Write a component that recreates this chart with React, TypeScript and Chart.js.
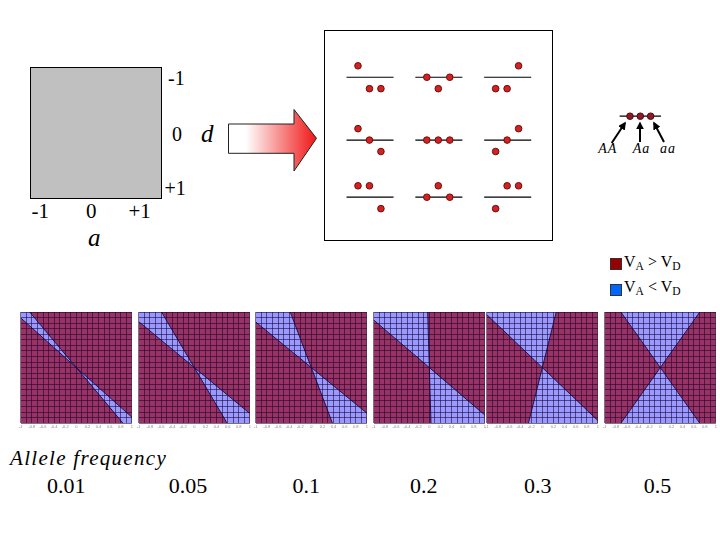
import React, { useEffect, useRef } from 'react';
import { Chart, registerables } from 'chart.js';

Chart.register(...registerables);

// ---------- data ----------
const frequencyLabels = ['0.01', '0.05', '0.1', '0.2', '0.3', '0.5'];
// a-value (−1 … +1 across each panel) where the two edges of the V_A < V_D wedge meet the top edge (d = −1)
const wedgeTopLeft = [-1.12, -1.21, -1.22, -1.17, -1.05, -0.71];
const wedgeTopRight = [-0.84, -0.59, -0.38, -0.03, 0.25, 0.71];

const squareBottomTicks = ['-1', '0', '+1'];
const squareSideTicks = ['-1', '0', '+1'];
const genotypeNames = ['AA', 'Aa', 'aa'];
// genotype values [AA, Aa, aa] for each (d row, a column) of the example grid
const genotypeValues: number[][][] = [
  [[1, -1, -1], [0, -1, 0], [-1, -1, 1]],
  [[1, 0, -1], [0, 0, 0], [-1, 0, 1]],
  [[1, 1, -1], [0, 1, 0], [-1, 1, 1]],
];
const legendGenotypeValues = [0, 0, 0];
const legendLabels = ['>', '<'];

// ---------- layout / style ----------
const RED = '#993366';
const BLUE = '#9999ff';
const GRID = 'rgba(20,0,40,0.55)';
const EDGE = 'rgba(25,15,80,0.95)';
const ROWS = 111;
const panelLefts = [20, 138, 255, 373, 486, 604];
const panelTop = 312;
const panelW = 112;
const panelH = 111;
const freqCenters = [66.3, 188, 306.3, 423.7, 537.8, 657.5];
const GROUP_SP = 6; // group spacing in dot units
const rowOffsets = [0, 5.5, 10.5];

function Heatmap({ idx }: { idx: number }) {
  const ref = useRef<HTMLCanvasElement>(null);
  useEffect(() => {
    const L = wedgeTopLeft[idx];
    const R = wedgeTopRight[idx];
    const labels: string[] = [];
    const blue: ([number, number] | null)[] = [];
    for (let i = 0; i < ROWS; i++) {
      const d = -1 + (2 * (i + 0.5)) / ROWS;
      labels.push(d.toFixed(3));
      const a1 = -L * d;
      const a2 = -R * d;
      const lo = Math.max(-1, Math.min(a1, a2));
      const hi = Math.min(1, Math.max(a1, a2));
      blue.push(hi > lo ? [lo, hi] : null);
    }
    const edge = (k: number) => {
      const m = -k;
      const dm = Math.min(1, 1 / Math.abs(m));
      return [
        { x: -m * dm, y: -dm },
        { x: m * dm, y: dm },
      ];
    };
    const chart = new Chart(ref.current!, {
      type: 'bar',
      data: {
        labels,
        datasets: [
          {
            type: 'line',
            data: [{ x: -1, y: 1 }, { x: 1, y: 1 }],
            xAxisID: 'x',
            yAxisID: 'g',
            fill: { value: -1 },
            backgroundColor: RED,
            borderWidth: 0,
            pointRadius: 0,
            order: 3,
          } as any,
          {
            type: 'bar',
            data: blue as any,
            indexAxis: 'y',
            xAxisID: 'x',
            yAxisID: 'y',
            backgroundColor: BLUE,
            barPercentage: 1.3,
            categoryPercentage: 1,
            grouped: false,
            borderWidth: 0,
            order: 2,
          } as any,
          {
            type: 'line',
            data: edge(L),
            xAxisID: 'x',
            yAxisID: 'g',
            borderColor: EDGE,
            borderWidth: 1,
            pointRadius: 0,
            fill: false,
            order: 1,
          } as any,
          {
            type: 'line',
            data: edge(R),
            xAxisID: 'x',
            yAxisID: 'g',
            borderColor: EDGE,
            borderWidth: 1,
            pointRadius: 0,
            fill: false,
            order: 1,
          } as any,
        ],
      },
      options: {
        responsive: false,
        animation: false,
        events: [],
        layout: { padding: { left: 2, right: 2, top: 0, bottom: 0 } },
        plugins: { legend: { display: false }, tooltip: { enabled: false } },
        scales: {
          x: {
            type: 'linear',
            min: -1,
            max: 1,
            offset: false,
            position: 'bottom',
            grid: { color: GRID, lineWidth: 1, drawTicks: false, z: 1, offset: false },
            border: { display: false },
            ticks: {
              stepSize: 0.1,
              autoSkip: false,
              maxRotation: 0,
              padding: 1,
              font: { size: 4 },
              color: '#888',
              callback: (v: any, i: number) => (i % 2 === 0 ? String(Math.round(Number(v) * 10) / 10) : ''),
            },
          },
          y: { type: 'category', display: false, offset: true },
          g: {
            type: 'linear',
            axis: 'y',
            position: 'left',
            min: -1,
            max: 1,
            offset: false,
            reverse: true,
            grid: { color: GRID, lineWidth: 1, drawTicks: false, z: 1, offset: false },
            border: { display: false },
            ticks: { display: false, stepSize: 0.1 },
          },
        } as any,
      },
    } as any);
    return () => chart.destroy();
  }, [idx]);
  return (
    <canvas
      ref={ref}
      width={panelW + 4}
      height={panelH + 7}
      style={{ position: 'absolute', left: panelLefts[idx] - 2, top: panelTop, display: 'block' }}
    />
  );
}

function DotChart({
  left, top, width, height, xMin, yMax, datasetsBuilder,
}: {
  left: number; top: number; width: number; height: number; xMin: number; yMax: number;
  datasetsBuilder: () => any[];
}) {
  const ref = useRef<HTMLCanvasElement>(null);
  useEffect(() => {
    const unit = 12;
    const chart = new Chart(ref.current!, {
      type: 'scatter',
      data: { datasets: datasetsBuilder() },
      options: {
        responsive: false,
        animation: false,
        events: [],
        layout: { padding: 0 },
        plugins: { legend: { display: false }, tooltip: { enabled: false } },
        scales: {
          x: { type: 'linear', display: false, min: xMin, max: xMin + width / unit },
          y: { type: 'linear', display: false, min: yMax - height / unit, max: yMax },
        },
      },
    } as any);
    return () => chart.destroy();
  }, []);
  return (
    <canvas
      ref={ref}
      width={width}
      height={height}
      style={{ position: 'absolute', left, top, display: 'block' }}
    />
  );
}

const dotStyle = (fill: string, border: string) => ({
  type: 'scatter',
  pointRadius: 3.3,
  pointBorderWidth: 1,
  pointBackgroundColor: fill,
  pointBorderColor: border,
  showLine: false,
  order: 0,
});
const lineStyle = {
  type: 'line',
  borderColor: '#000',
  borderWidth: 1.2,
  pointRadius: 0,
  fill: false,
  order: 1,
};

function buildDiagram() {
  const ds: any[] = [];
  const dots: { x: number; y: number }[] = [];
  genotypeValues.forEach((row, r) => {
    row.forEach((vals, c) => {
      const y0 = -rowOffsets[r];
      ds.push({ ...lineStyle, data: [{ x: c * GROUP_SP - 1, y: y0 }, { x: c * GROUP_SP + 3.1, y: y0 }] });
      vals.forEach((v, g) => dots.push({ x: c * GROUP_SP + g, y: y0 + v }));
    });
  });
  ds.push({ ...dotStyle('#d42222', '#6e0c0c'), data: dots });
  return ds;
}

function buildLegendGenotypes() {
  return [
    { ...lineStyle, data: [{ x: -1, y: 0 }, { x: 3, y: 0 }] },
    { ...dotStyle('#8e1a26', '#4e0a10'), data: legendGenotypeValues.map((v, g) => ({ x: g, y: v })) },
  ];
}

function Txt({
  x, y, size, italic, center, ls, children,
}: {
  x: number; y: number; size: number; italic?: boolean; center?: boolean; ls?: number; children: React.ReactNode;
}) {
  return (
    <div
      style={{
        position: 'absolute',
        left: x,
        top: y - 0.8375 * size,
        fontSize: size,
        lineHeight: 1,
        fontStyle: italic ? 'italic' : 'normal',
        whiteSpace: 'nowrap',
        letterSpacing: ls,
        transform: center ? 'translateX(-50%)' : undefined,
      }}
    >
      {children}
    </div>
  );
}

const Sub = ({ children }: { children: React.ReactNode }) => (
  <span style={{ fontSize: '0.72em', position: 'relative', top: '0.28em' }}>{children}</span>
);

export default function App() {
  const sideX = [168, 172, 164.5];
  const sideY = [85, 141, 195];
  const bottomX = [31.5, 86, 128.5];
  const gLabelX = [598.3, 632.7, 660];
  return (
    <div
      style={{
        position: 'absolute',
        left: 0,
        top: 0,
        width: 720,
        height: 540,
        background: '#fff',
        fontFamily: '"Liberation Serif", "Times New Roman", serif',
        color: '#000',
        overflow: 'hidden',
      }}
    >
      {/* parameter square */}
      <div
        style={{
          position: 'absolute', left: 30, top: 67, width: 132, height: 132,
          background: '#c0c0c0', border: '1px solid #000', boxSizing: 'border-box',
        }}
      />
      {squareSideTicks.map((t, i) => (
        <Txt key={'s' + i} x={sideX[i]} y={sideY[i]} size={20}>{t}</Txt>
      ))}
      {squareBottomTicks.map((t, i) => (
        <Txt key={'b' + i} x={bottomX[i]} y={219} size={21}>{t}</Txt>
      ))}
      <Txt x={201} y={142} size={25} italic>d</Txt>
      <Txt x={88} y={246} size={25} italic>a</Txt>

      {/* gradient arrow */}
      <svg width={720} height={540} style={{ position: 'absolute', left: 0, top: 0 }}>
        <defs>
          <linearGradient id="arrowGrad" x1="228" y1="0" x2="317" y2="0" gradientUnits="userSpaceOnUse">
            <stop offset="0" stopColor="#ffffff" />
            <stop offset="0.2" stopColor="#ffffff" />
            <stop offset="1" stopColor="#f01414" />
          </linearGradient>
          <marker id="ah" viewBox="0 0 10 10" refX="8" refY="5" markerWidth="4" markerHeight="4" orient="auto">
            <path d="M0,0 L10,5 L0,10 z" fill="#000" />
          </marker>
        </defs>
        <polygon
          points="228.5,124 294,124 294,109.5 316.5,138.3 294,171 294,153.3 228.5,153.3"
          fill="url(#arrowGrad)"
          stroke="#222"
          strokeWidth={1}
        />
        <line x1={611.7} y1={143} x2={625} y2={123} stroke="#000" strokeWidth={2} markerEnd="url(#ah)" />
        <line x1={640} y1={142} x2={640} y2={123} stroke="#000" strokeWidth={2} markerEnd="url(#ah)" />
        <line x1={664} y1={142} x2={654} y2={123} stroke="#000" strokeWidth={2} markerEnd="url(#ah)" />
      </svg>

      {/* example grid box */}
      <div
        style={{
          position: 'absolute', left: 324, top: 30, width: 229, height: 211,
          border: '1px solid #000', boxSizing: 'border-box',
        }}
      />
      <DotChart left={325} top={31} width={227} height={209} xMin={-2.44} yMax={3.61} datasetsBuilder={buildDiagram} />

      {/* genotype key */}
      <DotChart left={604} top={104} width={72} height={24} xMin={-2.03} yMax={1.03} datasetsBuilder={buildLegendGenotypes} />
      {genotypeNames.map((n, i) => (
        <Txt key={'g' + i} x={gLabelX[i]} y={153.3} size={14} italic ls={1}>{n}</Txt>
      ))}

      {/* colour key */}
      <div style={{ position: 'absolute', left: 610, top: 258, width: 12, height: 12, background: '#990000', border: '1px solid #333', boxSizing: 'border-box' }} />
      <div style={{ position: 'absolute', left: 610, top: 284, width: 12, height: 12, background: '#0066ff', border: '1px solid #333', boxSizing: 'border-box' }} />
      <Txt x={624} y={267} size={16}>V<Sub>A</Sub> {legendLabels[0]} V<Sub>D</Sub></Txt>
      <Txt x={624} y={292} size={16}>V<Sub>A</Sub> {legendLabels[1]} V<Sub>D</Sub></Txt>

      {/* heatmaps */}
      {frequencyLabels.map((_, i) => (
        <Heatmap key={'h' + i} idx={i} />
      ))}

      <Txt x={10} y={465.5} size={21} italic ls={1.3}>Allele frequency</Txt>
      {frequencyLabels.map((f, i) => (
        <Txt key={'f' + i} x={freqCenters[i]} y={493} size={22} center>{f}</Txt>
      ))}
    </div>
  );
}
